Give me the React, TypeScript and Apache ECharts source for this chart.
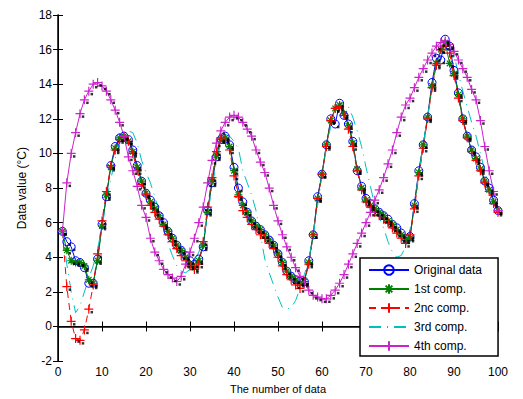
import React, { useEffect, useRef } from "react";
import * as echarts from "echarts";

const original = [
  5.5, 4.9, 4.6, 3.8, 3.7, 3.4, 2.5, 2.5, 3.9, 5.9,
  7.5, 9.3, 10.4, 10.9, 11.0, 10.8, 10.2, 9.3, 8.4, 7.7,
  7.3, 6.9, 6.4, 6.0, 5.5, 5.1, 4.7, 4.4, 4.1, 3.8,
  3.6, 3.9, 4.6, 6.7, 8.3, 9.8, 10.8, 11.0, 10.5, 9.2,
  8.0, 7.2, 6.6, 6.1, 5.8, 5.6, 5.3, 5.0, 4.7, 4.2,
  3.7, 3.2, 2.9, 2.7, 2.6, 2.6, 3.8, 5.3, 7.5, 8.8,
  10.5, 12.0, 11.7, 12.9, 12.2, 11.7, 10.7, 9.0, 8.1, 7.4,
  7.1, 6.8, 6.6, 6.4, 6.2, 5.9, 5.7, 5.4, 5.1, 5.2,
  7.1, 9.0, 10.5, 12.1, 14.1, 15.5, 15.4, 16.6, 16.2, 14.8,
  13.5, 12.0, 11.0, 10.2, 9.8, 9.2, 8.4, 8.0, 7.3, 6.7,
];

const comp1 = [
  5.5, 4.4, 3.8, 3.7, 3.7, 3.5, 2.7, 2.5, 3.8, 5.8,
  7.6, 9.2, 10.3, 10.9, 11.0, 10.7, 10.1, 9.2, 8.4, 7.7,
  7.2, 6.8, 6.4, 5.9, 5.5, 5.1, 4.7, 4.4, 4.0, 3.6,
  3.4, 3.8, 4.7, 6.6, 8.4, 9.9, 10.8, 10.9, 10.4, 9.0,
  7.6, 7.0, 6.6, 6.1, 5.8, 5.6, 5.3, 5.0, 4.7, 4.2,
  3.7, 3.2, 2.9, 2.7, 2.5, 2.6, 3.7, 5.3, 7.4, 8.8,
  10.5, 11.9, 12.6, 12.8, 12.3, 11.6, 10.6, 9.1, 8.0, 7.3,
  7.0, 6.8, 6.6, 6.4, 6.1, 5.9, 5.6, 5.3, 5.0, 5.1,
  7.0, 8.9, 10.5, 12.1, 13.9, 15.2, 16.0, 16.4, 15.2, 14.6,
  13.4, 12.0, 11.0, 10.2, 9.7, 9.1, 8.4, 7.9, 7.2, 6.7,
];

const comp2 = [
  5.5, 2.3, 0.3, -0.7, -0.8, -0.2, 1.0, 2.4, 4.2, 6.1,
  7.8, 9.3, 10.2, 10.8, 11.0, 10.7, 10.0, 9.0, 8.2, 7.6,
  7.0, 6.6, 6.2, 5.8, 5.3, 4.9, 4.5, 4.1, 3.8, 3.5,
  3.3, 3.6, 4.9, 6.9, 8.6, 10.1, 10.9, 10.8, 10.2, 8.7,
  7.5, 6.7, 6.3, 5.9, 5.6, 5.3, 5.1, 4.8, 4.5, 4.0,
  3.5, 3.0, 2.7, 2.4, 2.2, 2.6, 3.6, 5.3, 7.4, 8.8,
  10.4, 11.9, 12.6, 12.7, 12.2, 11.4, 10.4, 9.0, 7.9, 7.2,
  6.9, 6.6, 6.4, 6.2, 6.0, 5.7, 5.4, 5.1, 4.8, 5.3,
  6.8, 8.7, 10.3, 12.0, 13.8, 15.1, 16.0, 16.2, 15.8, 14.5,
  13.2, 11.9, 10.9, 10.1, 9.6, 9.0, 8.3, 7.8, 7.1, 6.6,
];

const comp3 = [
  5.5, 3.6, 2.0, 0.8, 1.2, 2.0, 2.8, 3.5, 4.5, 5.7,
  7.3, 8.5, 9.7, 10.6, 11.1, 11.3, 11.2, 10.6, 9.6, 8.9,
  8.3, 7.5, 6.6, 5.6, 4.8, 4.1, 3.5, 3.2, 3.1, 3.3,
  3.8, 4.3, 5.0, 6.5, 8.0, 9.5, 10.6, 11.1, 11.0, 10.7,
  10.3, 9.0, 8.3, 7.6, 6.7, 5.3, 3.9, 3.1, 2.4, 1.7,
  1.1, 1.0, 1.1, 1.5, 2.2, 3.0, 3.9, 5.3, 7.0, 8.7,
  10.3, 11.6, 12.5, 12.9, 12.9, 12.7, 12.1, 11.3, 10.4, 9.2,
  8.1, 7.0, 6.3, 5.7, 4.9, 4.3, 4.0, 4.1, 4.6, 5.6,
  7.0, 8.8, 10.5, 12.1, 13.7, 15.0, 15.9, 16.4, 16.4, 15.7,
  14.6, 13.6, 12.7, 11.8, 11.0, 10.0, 9.0, 8.0, 7.3, 6.7,
];

const comp4 = [
  5.5, 8.3, 10.0, 11.2, 12.3, 13.1, 13.6, 14.0, 14.1, 13.9,
  13.6, 13.1, 12.5, 11.8, 11.0, 9.8, 9.0, 8.1, 7.0, 6.3,
  5.1, 4.3, 3.8, 3.3, 3.0, 2.8, 2.6, 2.9, 3.6, 4.3,
  5.1, 6.0, 6.9, 8.3, 9.6, 10.6, 11.3, 11.8, 12.1, 12.2,
  12.1, 11.8, 11.4, 11.0, 10.2, 9.5, 8.9, 8.0, 7.0, 6.1,
  5.3, 4.6, 4.0, 3.4, 2.9, 2.5, 2.1, 1.8, 1.7, 1.6,
  1.6, 1.8, 2.1, 2.5, 3.0, 3.6, 4.2, 4.8, 5.4, 6.0,
  6.6, 7.3, 7.9, 8.6, 9.4, 10.2, 11.2, 12.1, 12.8, 13.2,
  13.8, 14.4, 14.9, 15.4, 15.8, 16.2, 16.4, 16.5, 16.3, 15.9,
  15.4, 14.9, 14.4, 13.7, 13.1, 11.9, 10.4, 9.0, 7.8, 6.7,
];

const seriesNames = ["Original data", "1st comp.", "2nc comp.", "3rd comp.", "4th comp."];
const xTicks = { min: 0, max: 100, interval: 10 };
const yTicks = { min: -2, max: 18, interval: 2 };

const pairs = (ys: number[]) => ys.map((y, i) => [i + 1, y]);

const PLUS = "path://M0,-5L0,5M-5,0L5,0";
const STAR = "path://M0,-5L0,5M-5,0L5,0M-3.5,-3.5L3.5,3.5M-3.5,3.5L3.5,-3.5";

const BLUE = "#0000ff";
const GREEN = "#008000";
const RED = "#ff0000";
const CYAN = "#00bfbf";
const MAGENTA = "#cc22cc";

const FONT = "Liberation Sans, Arial, Helvetica, sans-serif";

function dots(name: string, ys: number[]) {
  return {
    name,
    type: "scatter",
    data: pairs(ys),
    symbol: "rect",
    symbolSize: 2.5,
    symbolOffset: [3, 3],
    itemStyle: { color: "#000" },
    silent: true,
    z: 5,
  };
}

export default function App() {
  const ref = useRef<HTMLDivElement>(null);
  useEffect(() => {
    if (!ref.current) return;
    const chart = echarts.init(ref.current, undefined, { renderer: "svg" });
    const axisCommon = {
      axisLine: { show: true, lineStyle: { color: "#000", width: 1 } },
      axisTick: { show: true, inside: true, length: 5, lineStyle: { color: "#000" } },
      splitLine: { show: false },
    };
    chart.setOption({
      animation: false,
      backgroundColor: "#fff",
      grid: { left: 58, right: 25, top: 15, bottom: 36, containLabel: false },
      xAxis: [
        {
          type: "value",
          ...xTicks,
          position: "bottom",
          ...axisCommon,
          axisLine: { show: true, lineStyle: { color: "#000", width: 1.5 } },
          axisLabel: { color: "#000", fontSize: 12, fontFamily: FONT, margin: 5 },
          name: "The number of data",
          nameLocation: "middle",
          nameGap: 21,
          nameTextStyle: { color: "#000", fontSize: 11, fontFamily: FONT },
        },
        {
          type: "value",
          ...xTicks,
          position: "top",
          ...axisCommon,
          axisLabel: { show: false },
        },
      ],
      yAxis: [
        {
          type: "value",
          ...yTicks,
          position: "left",
          ...axisCommon,
          axisLine: { show: true, lineStyle: { color: "#000", width: 1.5 } },
          axisLabel: { color: "#000", fontSize: 12, fontFamily: FONT, margin: 6 },
          name: "Data value (°C)",
          nameLocation: "middle",
          nameGap: 28,
          nameTextStyle: { color: "#000", fontSize: 12, fontFamily: FONT },
        },
        {
          type: "value",
          ...yTicks,
          position: "right",
          ...axisCommon,
          axisLabel: { show: false },
        },
      ],
      legend: {
        orient: "vertical",
        left: 360,
        top: 258,
        itemWidth: 40,
        itemHeight: 12,
        itemGap: 7,
        padding: [6, 16, 4, 8],
        backgroundColor: "#fff",
        borderColor: "#000",
        borderWidth: 1.5,
        borderRadius: 0,
        textStyle: { color: "#000", fontSize: 12, fontFamily: FONT },
        data: [
          seriesNames[0],
          seriesNames[1],
          seriesNames[2],
          { name: seriesNames[3], itemStyle: { opacity: 0 } },
          seriesNames[4],
        ],
      },
      series: [
        {
          name: seriesNames[0],
          type: "line",
          data: pairs(original),
          symbol: "circle",
          symbolSize: 8,
          showAllSymbol: true,
          lineStyle: { color: BLUE, width: 1 },
          itemStyle: { color: "rgba(0,0,0,0)", borderColor: BLUE, borderWidth: 1 },
          z: 2,
        },
        {
          name: seriesNames[1],
          type: "line",
          data: pairs(comp1),
          symbol: STAR,
          symbolSize: 8,
          showAllSymbol: true,
          lineStyle: { color: GREEN, width: 1 },
          itemStyle: { color: GREEN, borderColor: GREEN, borderWidth: 1.2 },
          z: 2,
        },
        {
          name: seriesNames[2],
          type: "line",
          data: pairs(comp2),
          symbol: PLUS,
          symbolSize: 9,
          showAllSymbol: true,
          lineStyle: { color: RED, width: 1, type: [7, 5] },
          itemStyle: { color: RED, borderColor: RED, borderWidth: 1.2 },
          z: 2,
        },
        {
          name: seriesNames[3],
          type: "line",
          data: pairs(comp3),
          symbol: "none",
          lineStyle: { color: CYAN, width: 1, type: [12, 6, 1, 6] },
          itemStyle: { color: CYAN },
          z: 2,
        },
        {
          name: seriesNames[4],
          type: "line",
          data: pairs(comp4),
          symbol: PLUS,
          symbolSize: 9,
          showAllSymbol: true,
          lineStyle: { color: MAGENTA, width: 1 },
          itemStyle: { color: MAGENTA, borderColor: MAGENTA, borderWidth: 1.2 },
          z: 2,
        },
        dots("d0", original),
        dots("d1", comp1),
        dots("d2", comp2),
        dots("d4", comp4),
      ],
    });
    return () => chart.dispose();
  }, []);
  return (
    <div
      ref={ref}
      style={{ position: "fixed", left: 0, top: 0, width: 523, height: 399, background: "#fff" }}
    />
  );
}
